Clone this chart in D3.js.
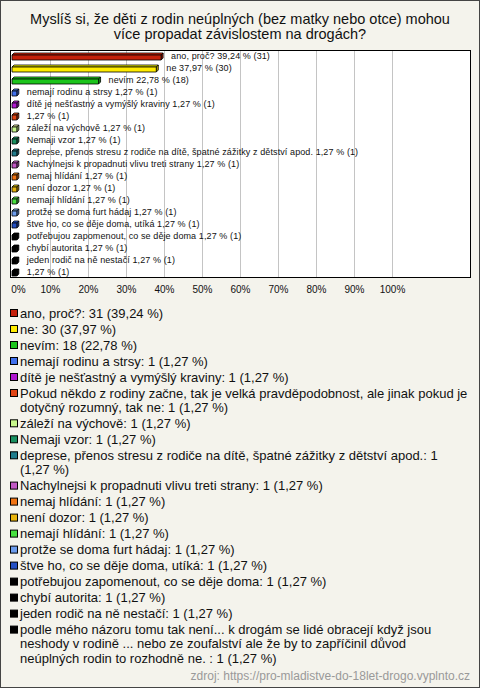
<!DOCTYPE html>
<html><head><meta charset="utf-8">
<script src="https://cdn.jsdelivr.net/npm/d3@7"></script>
<style>
html,body{margin:0;padding:0;background:#f4f3ec;}
svg{display:block;font-family:"Liberation Sans",Arial,sans-serif;}
</style></head>
<body><svg id="c" width="480" height="688"></svg>
<script>
const titleLines = ["Myslíš si, že děti z rodin neúplných (bez matky nebo otce) mohou", "více propadat závislostem na drogách?"];
const categories = [
 "ano, proč?", "ne", "nevím", "nemají rodinu a strsy", "dítě je nešťastný a vymýšlý kraviny",
 "Pokud někdo z rodiny začne, tak je velká pravděpodobnost, ale jinak pokud je dotyčný rozumný, tak ne",
 "záleží na výchově", "Nemaji vzor", "deprese, přenos stresu z rodiče na dítě, špatné zážitky z dětství apod.",
 "Nachylnejsi k propadnuti vlivu treti strany", "nemaj hlídání", "není dozor", "nemají hlídání",
 "protže se doma furt hádaj", "štve ho, co se děje doma, utíká", "potřebujou zapomenout, co se děje doma",
 "chybí autorita", "jeden rodič na ně nestačí",
 "podle mého názoru tomu tak není... k drogám se lidé obracejí když jsou neshody v rodině ... nebo ze zoufalství ale že by to zapříčinil důvod neúplných rodin to rozhodně ne. "
];
const barNames = [
 "ano, proč?", "ne", "nevím", "nemají rodinu a strsy", "dítě je nešťastný a vymýšlý kraviny", "",
 "záleží na výchově", "Nemaji vzor", "deprese, přenos stresu z rodiče na dítě, špatné zážitky z dětství apod.",
 "Nachylnejsi k propadnuti vlivu treti strany", "nemaj hlídání", "není dozor", "nemají hlídání",
 "protže se doma furt hádaj", "štve ho, co se děje doma, utíká", "potřebujou zapomenout, co se děje doma",
 "chybí autorita", "jeden rodič na ně nestačí", ""
];
const counts = [31,30,18,1,1,1,1,1,1,1,1,1,1,1,1,1,1,1,1];
const percents = [39.24,37.97,22.78,1.27,1.27,1.27,1.27,1.27,1.27,1.27,1.27,1.27,1.27,1.27,1.27,1.27,1.27,1.27,1.27];
const colors = ["#c4200a","#ffec00","#1cc41c","#4070ec","#b018d0","#e04414","#c8f88c","#189060","#207c8c",
 "#c058c4","#f07414","#e8b40c","#48e040","#6c9cec","#2450c4","#000000","#000000","#000000","#000000"];
const ticks = [0,10,20,30,40,50,60,70,80,90,100];
const source = "zdroj: https://pro-mladistve-do-18let-drogo.vyplnto.cz";

const fmt = v => v.toFixed(2).replace(".", ",");
const svg = d3.select("#c");
const W = 480, H = 688;

svg.append("rect").attr("x",0.5).attr("y",0.5).attr("width",W-1).attr("height",H-1)
  .attr("fill","#f4f3ec").attr("stroke","#444");

svg.append("g").selectAll("text").data(titleLines).join("text")
  .attr("x",240).attr("y",(d,i)=>24+i*15).attr("text-anchor","middle")
  .attr("font-size",14.5).attr("fill","#111").text(d=>d);

const plot = {l:10.5, t:50.5, r:470.5, b:277.5};
svg.append("rect").attr("x",plot.l).attr("y",plot.t).attr("width",plot.r-plot.l).attr("height",plot.b-plot.t)
  .attr("fill","#fff").attr("stroke","#000");

const x = d3.scaleLinear().domain([0,100]).range([12,392]);
const y = d3.scaleBand().domain(d3.range(categories.length)).range([50,278]);

svg.append("g").selectAll("line").data(ticks.filter(t=>t>0)).join("line")
  .attr("x1",d=>Math.round(x(d))+0.5).attr("x2",d=>Math.round(x(d))+0.5)
  .attr("y1",plot.t+0.5).attr("y2",plot.b-0.5).attr("stroke","#c4c4c4");

const axis = d3.axisBottom(x).tickValues(ticks).tickSize(0).tickFormat(d=>d+"%");
const ag = svg.append("g").attr("transform","translate(0,286)").call(axis);
ag.select(".domain").remove();
ag.selectAll("text").attr("font-size",10).attr("fill","#111").attr("font-family","Liberation Sans, Arial, sans-serif")
  .attr("dy","0.71em").attr("y",0)
  .attr("dx",d=>d===0?6:0);

const depth = 2;
const bars = svg.append("g");
const idx = d3.range(categories.length);
idx.forEach(i=>{
  const x0 = x(0), x1 = x(percents[i]);
  const yt = y(i) + 5, h = 5;
  const c = d3.color(colors[i]);
  const light = colors[i]==="#000000" ? "#000" : c.brighter(0.6).formatHex();
  const dark = colors[i]==="#000000" ? "#000" : c.darker(0.8).formatHex();
  const g = bars.append("g").attr("stroke","#000").attr("stroke-width",0.8).attr("stroke-linejoin","round");
  g.append("polygon").attr("points",[[x0,yt],[x0+depth,yt-depth],[x1+depth,yt-depth],[x1,yt]].join(" ")).attr("fill",light);
  g.append("polygon").attr("points",[[x1,yt],[x1+depth,yt-depth],[x1+depth,yt+h-depth],[x1,yt+h]].join(" ")).attr("fill",dark);
  g.append("rect").attr("x",x0).attr("y",yt).attr("width",x1-x0).attr("height",h).attr("fill",colors[i]);
  bars.append("text").attr("x",x1+depth+8).attr("y",y(i)+6).attr("dy","0.35em")
    .attr("font-size",9).attr("letter-spacing",0.1).attr("fill","#111")
    .text((barNames[i] ? barNames[i]+" " : "") + fmt(percents[i]) + " % (" + counts[i] + ")");
});

// legend
const leg = svg.append("g");
let ly = 313;
const maxW = 448;
idx.forEach(i=>{
  const label = categories[i] + ": " + counts[i] + " (" + fmt(percents[i]) + " %)";
  leg.append("rect").attr("x",10.5).attr("y",ly-3.5).attr("width",7).attr("height",7)
    .attr("fill",colors[i]).attr("stroke","#000");
  const t = leg.append("text").attr("x",20).attr("font-size",13).attr("fill","#111");
  const words = label.split(" ");
  let lines = [], cur = "";
  const probe = leg.append("text").attr("font-size",13);
  words.forEach(w=>{
    const test = cur ? cur + " " + w : w;
    probe.text(test);
    if (probe.node().getComputedTextLength() > maxW && cur) { lines.push(cur); cur = w; }
    else cur = test;
  });
  lines.push(cur);
  probe.remove();
  lines.forEach((ln,k)=>{
    t.append("tspan").attr("x",20).attr("y",ly+k*14.3).attr("dy","0.35em").text(ln);
  });
  ly += 16 + (lines.length-1)*14.3;
});

svg.append("text").attr("x",470).attr("y",680).attr("text-anchor","end")
  .attr("font-size",12).attr("fill","#999").text(source);
</script>
</body></html>
